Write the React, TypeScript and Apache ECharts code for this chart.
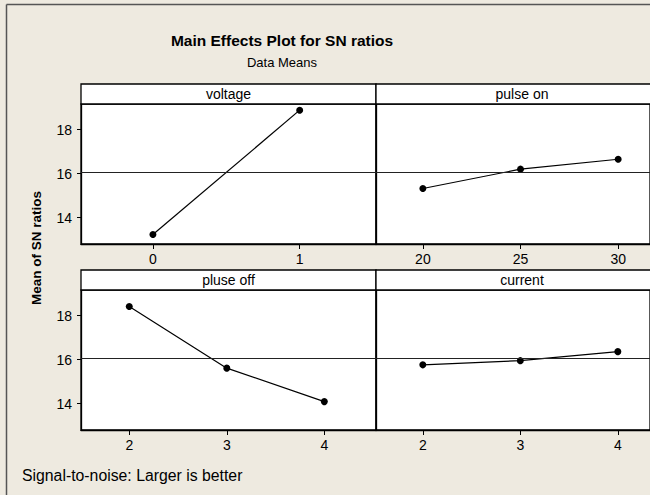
import React, { useEffect, useRef } from "react";
import * as echarts from "echarts";

const voltageX = [0, 1];
const voltageSN = [13.23, 18.88];
const pulseOnX = [20, 25, 30];
const pulseOnSN = [15.32, 16.2, 16.65];
const pulseOffX = [2, 3, 4];
const pulseOffSN = [18.41, 15.61, 14.09];
const currentX = [2, 3, 4];
const currentSN = [15.76, 15.95, 16.36];
const yTicks = [14, 16, 18];
const panelTitles = ["voltage", "pulse on", "pluse off", "current"];

const mean = (a: number[]) => a.reduce((s, v) => s + v, 0) / a.length;
const grandMean = mean([mean(voltageSN), mean(pulseOnSN), mean(pulseOffSN), mean(currentSN)]);

const BG = "#EEEAE0";
const FONT = "Liberation Sans";

export default function App() {
  const ref = useRef<HTMLDivElement>(null);
  useEffect(() => {
    if (!ref.current) return;
    document.body.style.margin = "0";
    document.body.style.background = BG;
    document.documentElement.style.background = BG;
    const chart = echarts.init(ref.current, undefined, { renderer: "svg" });

    const grids = [
      { left: 81, top: 104, width: 295, height: 140 },
      { left: 376, top: 104, width: 276, height: 140 },
      { left: 81, top: 290, width: 295, height: 140 },
      { left: 376, top: 290, width: 276, height: 140 },
    ];
    const xs = [voltageX, pulseOnX, pulseOffX, currentX];
    const ys = [voltageSN, pulseOnSN, pulseOffSN, currentSN];
    const xRanges = [
      [-0.49, 1.52],
      [17.6, 31.63],
      [1.505, 4.53],
      [1.52, 4.33],
    ];

    const headers: any[] = [];
    grids.forEach((g, i) => {
      headers.push({
        type: "rect",
        shape: { x: g.left, y: g.top - 20, width: g.width, height: 20 },
        style: { fill: "#fff", stroke: "#000", lineWidth: 1.3 },
        z: 10,
      });
      headers.push({
        type: "text",
        x: g.left + (i % 2 === 0 ? g.width / 2 : 146),
        y: g.top - 10,
        style: {
          text: panelTitles[i],
          fontFamily: FONT,
          fontSize: 14,
          fill: "#000",
          align: "center",
          verticalAlign: "middle",
        },
        z: 11,
      });
    });

    chart.setOption({
      animation: false,
      backgroundColor: BG,
      grid: grids.map((g) => ({
        ...g,
        show: true,
        backgroundColor: "#fff",
        borderColor: "#000",
        borderWidth: 1.3,
        containLabel: false,
      })),
      xAxis: grids.map((g, i) => ({
        type: "value",
        gridIndex: i,
        min: xRanges[i][0],
        max: xRanges[i][1],
        splitLine: { show: false },
        axisLine: { show: true, onZero: false, lineStyle: { color: "#000", width: 1.3 } },
        axisTick: {
          show: true,
          length: 5,
          customValues: xs[i],
          lineStyle: { color: "#000" },
        },
        axisLabel: {
          show: true,
          customValues: xs[i],
          margin: 8,
          fontFamily: FONT,
          fontSize: 14,
          color: "#000",
        },
      })),
      yAxis: grids.map((g, i) => ({
        type: "value",
        gridIndex: i,
        min: 12.8,
        max: 19.16,
        splitLine: { show: false },
        axisLine: { show: true, onZero: false, lineStyle: { color: "#000", width: 1.3 } },
        axisTick: {
          show: i % 2 === 0,
          length: 4,
          customValues: yTicks,
          lineStyle: { color: "#000" },
        },
        axisLabel: {
          show: i % 2 === 0,
          customValues: yTicks,
          margin: 9,
          fontFamily: FONT,
          fontSize: 14,
          color: "#000",
        },
      })),
      series: grids.map((g, i) => ({
        type: "line",
        xAxisIndex: i,
        yAxisIndex: i,
        data: xs[i].map((x, j) => [x, ys[i][j]]),
        symbol: "circle",
        symbolSize: 7,
        itemStyle: { color: "#000" },
        lineStyle: { color: "#000", width: 1.2 },
        markLine: {
          silent: true,
          symbol: "none",
          label: { show: false },
          lineStyle: { color: "#222", width: 1, type: "solid" },
          data: [{ yAxis: grandMean }],
        },
        z: 3,
      })),
      graphic: [
        {
          type: "line",
          shape: { x1: 6.5, y1: 4.5, x2: 6.5, y2: 495 },
          style: { stroke: "#555", lineWidth: 1.5 },
        },
        {
          type: "line",
          shape: { x1: 6.5, y1: 4.5, x2: 650, y2: 4.5 },
          style: { stroke: "#555", lineWidth: 1.5 },
        },
        {
          type: "text",
          x: 282,
          y: 40,
          style: {
            text: "Main Effects Plot for SN ratios",
            fontFamily: FONT,
            fontWeight: "bold",
            fontSize: 15.5,
            fill: "#000",
            align: "center",
            verticalAlign: "middle",
          },
        },
        {
          type: "text",
          x: 282,
          y: 62,
          style: {
            text: "Data Means",
            fontFamily: FONT,
            fontSize: 13,
            fill: "#000",
            align: "center",
            verticalAlign: "middle",
          },
        },
        {
          type: "text",
          x: 36,
          y: 248,
          rotation: Math.PI / 2,
          style: {
            text: "Mean of SN ratios",
            fontFamily: FONT,
            fontWeight: "bold",
            fontSize: 13.5,
            fill: "#000",
            align: "center",
            verticalAlign: "middle",
          },
        },
        {
          type: "text",
          x: 22,
          y: 475,
          style: {
            text: "Signal-to-noise: Larger is better",
            fontFamily: FONT,
            fontSize: 15.8,
            fill: "#000",
            align: "left",
            verticalAlign: "middle",
          },
        },
        ...headers,
      ],
    });
    return () => chart.dispose();
  }, []);
  return (
    <div
      ref={ref}
      style={{
        position: "fixed",
        left: 0,
        top: 0,
        width: 650,
        height: 495,
        overflow: "hidden",
        background: BG,
      }}
    />
  );
}
